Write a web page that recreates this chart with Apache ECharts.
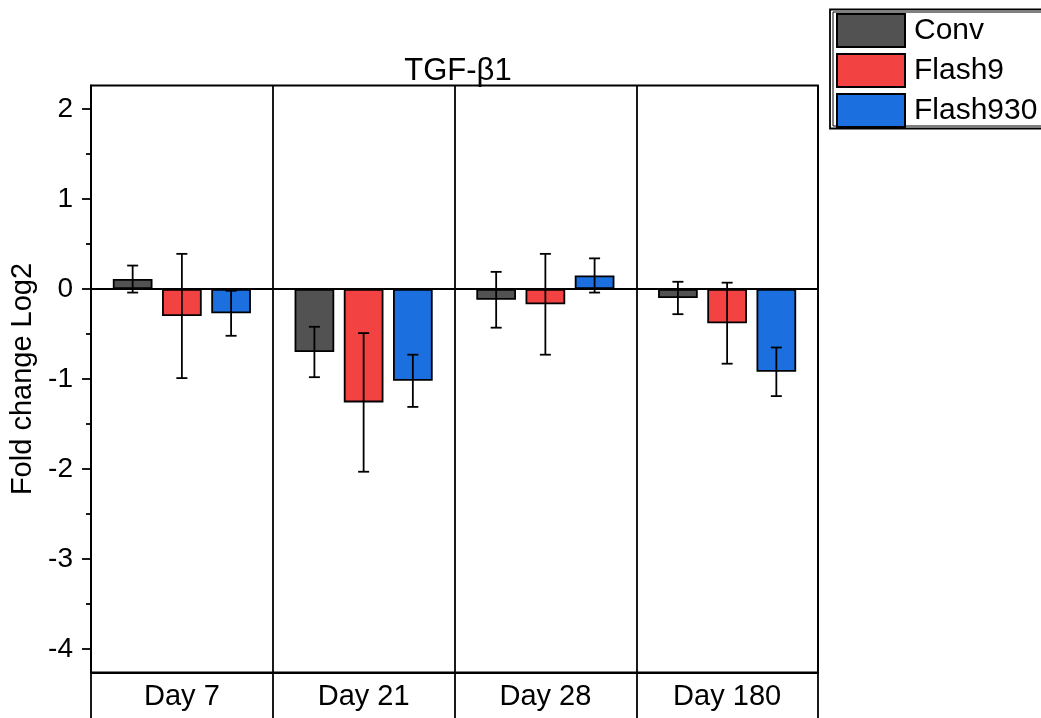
<!DOCTYPE html>
<html>
<head>
<meta charset="utf-8">
<script src="https://cdn.jsdelivr.net/npm/echarts@6/dist/echarts.min.js"></script>
<style>
  html, body { margin: 0; padding: 0; background: #fff; }
  #chart { width: 1041px; height: 718px; }
</style>
</head>
<body>
<div id="chart"></div>
<script>
// Time points and groups
const categories = ['Day 7', 'Day 21', 'Day 28', 'Day 180'];
const seriesNames = ['Conv', 'Flash9', 'Flash930'];

// Mean log2 fold change per group
const convMean = [0.11, -0.70, -0.12, -0.10];
const flash9Mean = [-0.30, -1.26, -0.17, -0.38];
const flash930Mean = [-0.27, -1.02, 0.15, -0.92];

// Error bar half-widths
const convErr = [0.15, 0.28, 0.31, 0.18];
const flash9Err = [0.69, 0.77, 0.56, 0.45];
const flash930Err = [0.25, 0.29, 0.19, 0.27];

// Axis ticks
const yMajorTicks = [-4, -3, -2, -1, 0, 1, 2];
const yMinorTicks = [-3.5, -2.5, -1.5, -0.5, 0.5, 1.5];
const yMin = -4.26;
const yMax = 2.26;

const colors = ['#525252', '#f34242', '#1b6fdf'];
const means = [convMean, flash9Mean, flash930Mean];
const errs = [convErr, flash9Err, flash930Err];

const FONT = '"Liberation Sans", Arial, Helvetica, sans-serif';
const CAT_GAP = 0.24;
const BAR_GAP = 0.24;
const LINE_W = 1.8;

function makeErrorRenderer(seriesIdx) {
  return function (params, api) {
    const idx = api.value(0);
    const lo = api.coord([idx, api.value(1)]);
    const hi = api.coord([idx, api.value(2)]);
    const band = api.size([1, 0])[0];
    const barW = band * (1 - CAT_GAP) / (3 + 2 * BAR_GAP);
    const x = lo[0] + (seriesIdx - 1) * barW * (1 + BAR_GAP);
    const cap = 5.5;
    const style = { stroke: '#000', lineWidth: LINE_W };
    return {
      type: 'group',
      children: [
        { type: 'line', shape: { x1: x, y1: lo[1], x2: x, y2: hi[1] }, style: style },
        { type: 'line', shape: { x1: x - cap, y1: lo[1], x2: x + cap, y2: lo[1] }, style: style },
        { type: 'line', shape: { x1: x - cap, y1: hi[1], x2: x + cap, y2: hi[1] }, style: style }
      ]
    };
  };
}

const series = [];
seriesNames.forEach(function (name, i) {
  const s = {
    name: name,
    type: 'bar',
    data: means[i],
    barGap: (BAR_GAP * 100) + '%',
    barCategoryGap: (CAT_GAP * 100) + '%',
    itemStyle: { color: colors[i], borderColor: '#000', borderWidth: LINE_W },
    z: 2
  };
  if (i === 0) {
    s.markLine = {
      silent: true,
      symbol: 'none',
      label: { show: false },
      lineStyle: { color: '#000', width: LINE_W, type: 'solid' },
      data: [{ yAxis: 0 }],
      z: 1
    };
  }
  series.push(s);
});
seriesNames.forEach(function (name, i) {
  series.push({
    name: name + ' error',
    type: 'custom',
    renderItem: makeErrorRenderer(i),
    data: means[i].map(function (m, k) { return [k, m - errs[i][k], m + errs[i][k]]; }),
    z: 5,
    silent: true
  });
});

const chart = echarts.init(document.getElementById('chart'), null, { renderer: 'canvas' });
chart.setOption({
  animation: false,
  backgroundColor: '#fff',
  textStyle: { fontFamily: FONT },
  title: {
    text: 'TGF-β1',
    left: 453,
    textAlign: 'center',
    top: 51,
    textStyle: { fontFamily: FONT, fontSize: 31, fontWeight: 'normal', color: '#000' }
  },
  legend: {
    data: seriesNames,
    orient: 'vertical',
    left: 836,
    top: 13,
    padding: 0,
    itemWidth: 68,
    itemHeight: 33,
    itemGap: 5,
    icon: 'rect',
    textStyle: { fontFamily: FONT, fontSize: 30, color: '#000', padding: [0, 0, 0, 4] }
  },
  graphic: [
    { type: 'rect', shape: { x: 830, y: 9.5, width: 260, height: 119 }, style: { fill: 'none', stroke: '#000', lineWidth: 1.8 }, silent: true },
    { type: 'rect', shape: { x: 833, y: 12, width: 260, height: 114 }, style: { fill: 'none', stroke: '#000', lineWidth: 1 }, silent: true }
  ],
  grid: {
    left: 91,
    right: 223,
    top: 85.5,
    bottom: 45.5,
    show: true,
    borderColor: '#000',
    borderWidth: LINE_W,
    backgroundColor: 'transparent'
  },
  xAxis: {
    type: 'category',
    data: categories,
    boundaryGap: true,
    axisLine: { show: true, onZero: false, lineStyle: { color: '#000', width: LINE_W } },
    axisTick: { show: true, interval: 0, alignWithLabel: false, length: 48, lineStyle: { color: '#000', width: LINE_W } },
    axisLabel: { interval: 0, margin: 10, fontFamily: FONT, fontSize: 29, color: '#000' },
    splitLine: { show: true, interval: 0, lineStyle: { color: '#000', width: LINE_W } }
  },
  yAxis: [
    {
      type: 'value',
      min: yMin,
      max: yMax,
      name: 'Fold change Log2',
      nameLocation: 'middle',
      nameGap: 50,
      nameTextStyle: { fontFamily: FONT, fontSize: 29, color: '#000' },
      axisLine: { show: true, lineStyle: { color: '#000', width: LINE_W } },
      axisTick: { show: true, customValues: yMajorTicks, length: 9, lineStyle: { color: '#000', width: LINE_W } },
      axisLabel: { customValues: yMajorTicks, margin: 18, fontFamily: FONT, fontSize: 28, color: '#000' },
      splitLine: { show: false }
    },
    {
      type: 'value',
      min: yMin,
      max: yMax,
      position: 'left',
      offset: 0,
      axisLine: { show: false },
      axisTick: { show: true, customValues: yMinorTicks, length: 5, lineStyle: { color: '#000', width: LINE_W } },
      axisLabel: { show: false },
      splitLine: { show: false }
    }
  ],
  series: series
});
</script>
</body>
</html>
